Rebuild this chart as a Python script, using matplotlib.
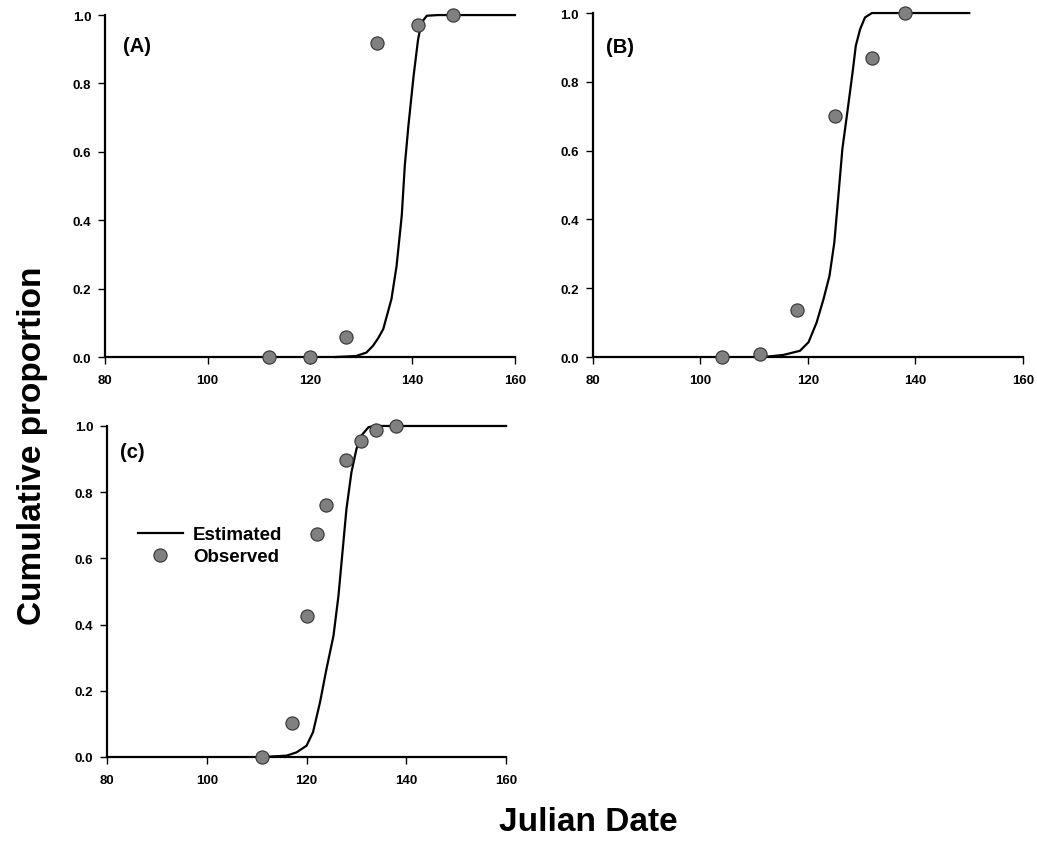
import matplotlib.pyplot as plt
from matplotlib.lines import Line2D

plt.rcParams['font.family'] = ['Liberation Sans', 'DejaVu Sans']
plt.rcParams['font.weight'] = 'bold'

# Panel (A)
a_obs_x = [112, 120, 127, 133, 141, 148]
a_obs_y = [0.0, 0.0, 0.06, 0.917, 0.971, 1.0]
a_est_x = [125, 129, 131, 132.3, 133.3, 134.3, 135.9, 136.9, 137.9, 138.5, 139.2, 140.2, 141.1, 141.8, 142.8, 145, 160]
a_est_y = [0.0, 0.003, 0.013, 0.033, 0.055, 0.082, 0.17, 0.267, 0.413, 0.56, 0.676, 0.82, 0.93, 0.979, 0.998, 1.0, 1.0]

# Panel (B)
b_obs_x = [104, 111, 118, 125, 132, 138]
b_obs_y = [0.0, 0.008, 0.137, 0.70, 0.869, 1.0]
b_est_x = [111.7, 115.4, 118.5, 120.1, 121.6, 122.9, 124.0, 124.9, 125.6, 126.4, 127.4, 128.3, 128.9, 129.7, 130.6, 131.9, 150]
b_est_y = [0.0, 0.006, 0.018, 0.043, 0.10, 0.169, 0.236, 0.333, 0.459, 0.605, 0.721, 0.828, 0.905, 0.953, 0.987, 1.0, 1.0]

# Panel (c)
c_obs_x = [111, 117, 120, 122, 124, 128, 131, 134, 138]
c_obs_y = [0.0, 0.103, 0.426, 0.674, 0.761, 0.898, 0.955, 0.989, 1.0]
c_est_x = [111.3, 116.0, 118.0, 120.0, 121.3, 122.7, 124.0, 125.4, 126.4, 127.2, 128.0, 129.0, 130.0, 131.0, 132.4, 133.4, 160]
c_est_y = [0.0, 0.004, 0.014, 0.034, 0.075, 0.165, 0.266, 0.366, 0.487, 0.618, 0.749, 0.86, 0.93, 0.971, 0.996, 1.0, 1.0]

x_ticks = [80, 100, 120, 140, 160]
y_ticks = [0.0, 0.2, 0.4, 0.6, 0.8, 1.0]

point_color = '#808080'


def draw_panel(ax, est_x, est_y, obs_x, obs_y, label, label_pos):
    ax.plot(est_x, est_y, color='black', lw=1.6, clip_on=False, zorder=3)
    ax.plot(obs_x, obs_y, 'o', ms=9.5, mfc=point_color, mec='#333333', mew=0.8,
            clip_on=False, zorder=4)
    ax.set_xlim(80, 160)
    ax.set_ylim(0, 1)
    ax.set_xticks(x_ticks)
    ax.set_yticks(y_ticks)
    ax.set_yticklabels(['%.1f' % v for v in y_ticks])
    for s in ['top', 'right']:
        ax.spines[s].set_visible(False)
    for s in ['left', 'bottom']:
        ax.spines[s].set_linewidth(1.6)
    ax.tick_params(direction='out', length=5, width=1, labelsize=9.5)
    ax.tick_params(axis='x', pad=7)
    ax.tick_params(axis='y', pad=5)
    ax.text(label_pos[0], label_pos[1], label, transform=ax.transAxes,
            fontsize=14.5, fontweight='bold', va='center', ha='left')


fig = plt.figure(figsize=(10.37, 8.45), dpi=100)
ax_a = fig.add_axes([0.1013, 0.5763, 0.3953, 0.4047])
ax_b = fig.add_axes([0.5718, 0.5763, 0.4147, 0.4071])
ax_c = fig.add_axes([0.1032, 0.1030, 0.3848, 0.3917])

draw_panel(ax_a, a_est_x, a_est_y, a_obs_x, a_obs_y, '(A)', (0.044, 0.912))
draw_panel(ax_b, b_est_x, b_est_y, b_obs_x, b_obs_y, '(B)', (0.030, 0.904))
draw_panel(ax_c, c_est_x, c_est_y, c_obs_x, c_obs_y, '(c)', (0.033, 0.924))

handles = [Line2D([], [], color='black', lw=1.6),
           Line2D([], [], ls='', marker='o', ms=9.5, mfc=point_color, mec='#333333', mew=0.8)]
ax_c.legend(handles, ['Estimated', 'Observed'], loc='upper left',
            bbox_to_anchor=(0.06, 0.72), frameon=False,
            prop={'size': 13.5, 'weight': 'bold'}, handlelength=2.35,
            handletextpad=0.55, labelspacing=0.25, borderaxespad=0)

fig.text(0.031, 0.473, 'Cumulative proportion', rotation=90, fontsize=24,
         fontweight='bold', ha='center', va='center')
fig.text(0.567, 0.027, 'Julian Date', fontsize=24, fontweight='bold',
         ha='center', va='center')

fig.savefig('out.png', dpi=100)
